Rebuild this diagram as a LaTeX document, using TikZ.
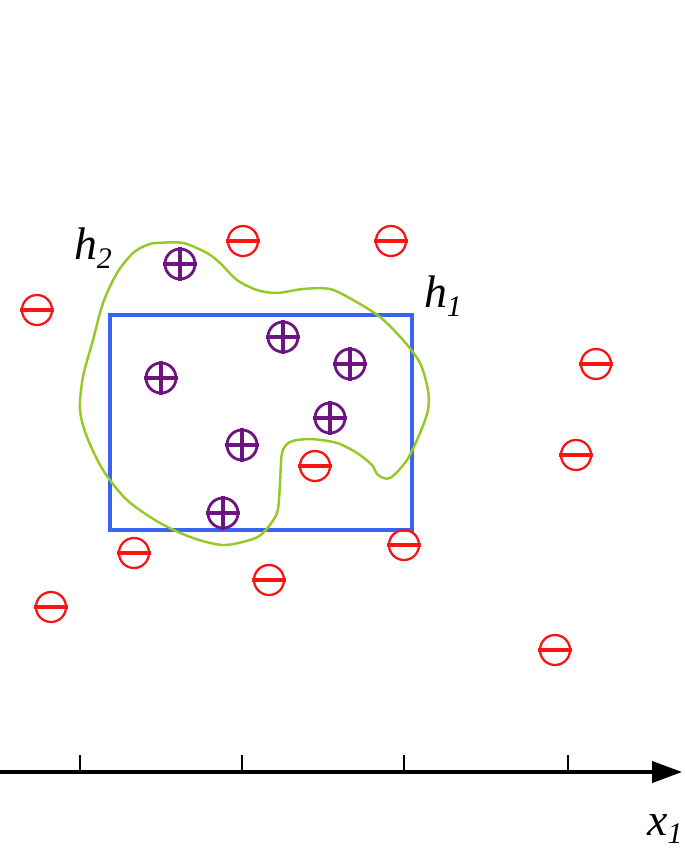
\documentclass[tikz,border=0pt]{standalone}
\usepackage{fontspec}
\setmainfont{Liberation Serif}
\usetikzlibrary{arrows.meta}
\definecolor{colorneg}{RGB}{250,20,20}
\definecolor{colorpos}{RGB}{110,20,130}
\definecolor{colorbox}{RGB}{55,100,245}
\definecolor{colorcurve}{RGB}{150,200,40}

\begin{document}
\begin{tikzpicture}[x=0.02cm,y=-0.02cm]
\def\rad{15}
\def\barlen{17}
\useasboundingbox (0,0) rectangle (685,848);

% hypothesis h1: the rectangle
\draw[colorbox,line width=2.2pt] (110,315) rectangle (412,530);

% hypothesis h2: the free-form curve
\draw[colorcurve,line width=1.4pt] plot[smooth cycle,tension=0.5] coordinates {
  (157,243) (183,243) (207,253) (220,263) (237,280) (257,290) (277,293)
  (303,289) (330,289) (353,300) (380,317) (403,340) (420,363) (428,390)
  (428,410) (420,433) (407,460) (390,478) (378,475) (372,465) (357,453)
  (337,443) (310,439) (290,442) (282,453) (280,483) (277,513) (263,533)
  (250,540) (223,545) (193,538) (160,523) (127,500) (103,470) (87,437)
  (80,410) (83,377) (93,340) (103,303) (117,273) (133,253) (147,245)};

% negative examples
\foreach \x/\y [count=\i] in {243/241, 391/241, 37/310, 596/364, 576/455,
    315/466, 134/553, 404/545, 269/580, 51/607, 555/650} {
  \coordinate (neg\i) at (\x,\y);
  \draw[colorneg,line width=1.3pt] (neg\i) circle (\rad);
  \draw[colorneg,line width=2pt] ([xshift=-\barlen*0.02cm]neg\i) -- ([xshift=\barlen*0.02cm]neg\i);
}

% positive examples
\foreach \x/\y [count=\i] in {180/264, 283/337, 350/364, 161/378, 330/418,
    242/445, 223/513} {
  \coordinate (pos\i) at (\x,\y);
  \draw[colorpos,line width=1.6pt] (pos\i) circle (\rad);
  \draw[colorpos,line width=2pt] ([xshift=-\barlen*0.02cm]pos\i) -- ([xshift=\barlen*0.02cm]pos\i)
    ([yshift=-\barlen*0.02cm]pos\i) -- ([yshift=\barlen*0.02cm]pos\i);
}

% axis
\coordinate (axstart) at (0,772);
\coordinate (axend) at (682,772);
\draw[line width=2pt,-{Triangle[length=17pt,width=12pt]}] (axstart) -- (axend);
\foreach \t in {80,242,404,568}
  \draw[line width=1.6pt] (\t,772) -- (\t,755);

\node (lblh2) at (93,248) {\fontsize{26}{30}\selectfont\textit{h}\raisebox{-0.4ex}{\fontsize{17}{20}\selectfont\textit{2}}};
\node (lblh1) at (443,296) {\fontsize{26}{30}\selectfont\textit{h}\raisebox{-0.4ex}{\fontsize{17}{20}\selectfont\textit{1}}};
\node (lblx1) at (665,829) {\fontsize{26}{30}\selectfont\textit{x}\raisebox{-0.4ex}{\fontsize{17}{20}\selectfont\textit{1}}};
\end{tikzpicture}
\end{document}
